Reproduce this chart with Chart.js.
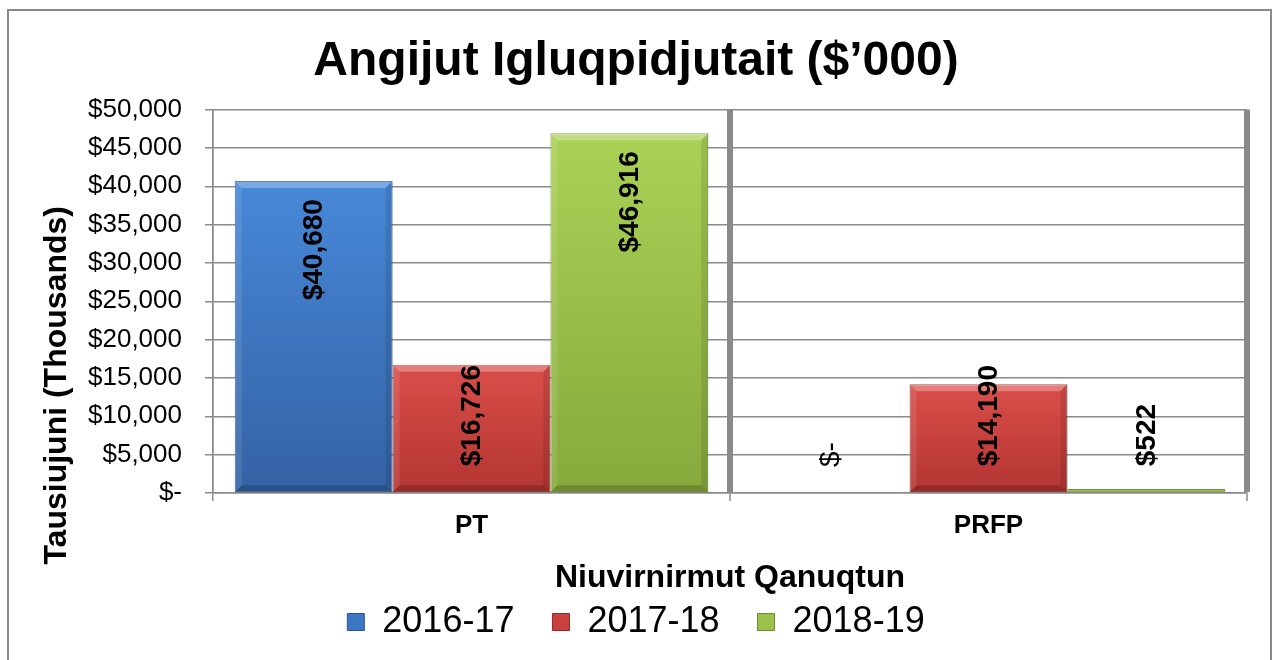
<!DOCTYPE html>
<html>
<head>
<meta charset="utf-8">
<script src="https://cdn.jsdelivr.net/npm/chart.js@4"></script>
<style>
  html, body { margin: 0; padding: 0; background: #ffffff; overflow: hidden; }
  #wrap { position: absolute; left: 0; top: 0; width: 1272px; height: 660px; }
  #frame { position: absolute; left: 7px; top: 9px; width: 1265px; height: 670px;
           border: 2px solid #8a8a8a; box-sizing: border-box; pointer-events: none; }
</style>
</head>
<body>
<div id="wrap">
  <canvas id="c" width="1272" height="660"></canvas>
  <div id="frame"></div>
</div>
<script>
// ---- data ----
const categories = ['PT', 'PRFP'];
const seriesNames = ['2016-17', '2017-18', '2018-19'];
const values2016 = [40680, 0];
const values2017 = [16726, 14190];
const values2018 = [46916, 522];
const yMin = 0;
const yMax = 50000;
const yStep = 5000;
const chartTitle = 'Angijut Igluqpidjutait ($\u2019000)';
const yAxisTitle = 'Tausiujuni (Thousands)';
const xAxisTitle = 'Niuvirnirmut Qanuqtun';

// ---- styles ----
const FONT = '"Liberation Sans", Arial, Helvetica, sans-serif';
const GRID = '#8a8a8a';
const palette = [
  { light: '#4788d8', dark: '#3462a4', solid: '#3d76c3', edge: '#2c5690' },
  { light: '#da4e4a', dark: '#b33532', solid: '#c8413e', edge: '#8e2a28' },
  { light: '#aad256', dark: '#86a93c', solid: '#9ac24a', edge: '#6f8c30' }
];

function money(v) {
  return v === 0 ? '$-' : '$' + Number(v).toLocaleString('en-US');
}

function barFill(p) {
  return (c) => {
    const chart = c.chart;
    const ys = chart.scales && chart.scales.y;
    if (!chart.chartArea || !ys || !c.parsed) return p.solid;
    const t = ys.getPixelForValue(c.parsed.y);
    const b = ys.getPixelForValue(0);
    if (b - t < 2) return p.light;
    const g = chart.ctx.createLinearGradient(0, t, 0, b);
    g.addColorStop(0, p.light);
    g.addColorStop(1, p.dark);
    return g;
  };
}

// bevel + data labels drawn from the bar elements the library laid out
const barDecor = {
  id: 'barDecor',
  afterDatasetsDraw(chart) {
    const ctx = chart.ctx;
    chart.data.datasets.forEach((ds, di) => {
      const meta = chart.getDatasetMeta(di);
      meta.data.forEach((el, i) => {
        const half = el.width / 2;
        const l = el.x - half, r = el.x + half, t = el.y, b = el.base;
        const bv = 7;
        if (b - t > 2 * bv + 2) {
          const poly = (pts, col) => {
            ctx.beginPath();
            ctx.moveTo(pts[0][0], pts[0][1]);
            for (let k = 1; k < pts.length; k++) ctx.lineTo(pts[k][0], pts[k][1]);
            ctx.closePath();
            ctx.fillStyle = col;
            ctx.fill();
          };
          ctx.save();
          poly([[l, t], [r, t], [r - bv, t + bv], [l + bv, t + bv]], 'rgba(255,255,255,0.28)');
          poly([[l, t], [l + bv, t + bv], [l + bv, b - bv], [l, b]], 'rgba(255,255,255,0.10)');
          poly([[r, t], [r, b], [r - bv, b - bv], [r - bv, t + bv]], 'rgba(0,0,0,0.10)');
          poly([[l, b], [l + bv, b - bv], [r - bv, b - bv], [r, b]], 'rgba(0,0,0,0.18)');
          ctx.restore();
        }
        // label
        const v = ds.data[i];
        const txt = money(v);
        ctx.save();
        ctx.font = (v === 0 ? '' : 'bold ') + '28px ' + FONT;
        const w = ctx.measureText(txt).width;
        const bottom = Math.min(t + 18 + w, b - 26);
        ctx.translate(el.x, bottom);
        ctx.rotate(-Math.PI / 2);
        ctx.textAlign = 'left';
        ctx.textBaseline = 'middle';
        ctx.fillStyle = '#000000';
        ctx.fillText(txt, 0, 1);
        ctx.restore();
      });
    });
  }
};

// y-axis title (placed lower than the axis centre, as in the original)
const yTitlePlugin = {
  id: 'yTitle',
  afterDraw(chart) {
    const a = chart.chartArea;
    const ctx = chart.ctx;
    ctx.save();
    ctx.font = 'bold 32px ' + FONT;
    ctx.fillStyle = '#000000';
    ctx.textAlign = 'center';
    ctx.textBaseline = 'middle';
    ctx.translate(57, (a.top + a.bottom) / 2 + 84);
    ctx.rotate(-Math.PI / 2);
    ctx.fillText(yAxisTitle, 0, 0);
    ctx.restore();
  }
};

const seriesValues = [values2016, values2017, values2018];
const datasets = seriesNames.map((name, k) => ({
  label: name,
  data: seriesValues[k],
  backgroundColor: barFill(palette[k]),
  borderColor: palette[k].edge,
  borderWidth: 1,
  borderSkipped: false,
  categoryPercentage: 0.916,
  barPercentage: 1.0
}));

new Chart(document.getElementById('c'), {
  type: 'bar',
  data: { labels: categories, datasets },
  plugins: [barDecor, yTitlePlugin],
  options: {
    responsive: false,
    devicePixelRatio: 1,
    animation: false,
    layout: { padding: { left: 8, right: 8, top: 10, bottom: 10 } },
    plugins: {
      tooltip: { enabled: false },
      title: {
        display: true,
        text: chartTitle,
        color: '#000000',
        font: { family: FONT, size: 48, weight: 'bold' },
        padding: { top: 23, bottom: 19 }
      },
      legend: {
        position: 'bottom',
        labels: {
          color: '#000000',
          font: { family: FONT, size: 36 },
          boxWidth: 17,
          boxHeight: 17,
          padding: 38,
          generateLabels(chart) {
            return chart.data.datasets.map((ds, k) => ({
              text: ds.label,
              fillStyle: palette[k].solid,
              strokeStyle: palette[k].edge,
              lineWidth: 1,
              hidden: false,
              datasetIndex: k,
              fontColor: '#000000'
            }));
          }
        }
      }
    },
    scales: {
      x: {
        offset: true,
        grid: {
          display: true,
          offset: true,
          color: GRID,
          lineWidth: (c) => (c.index === 0 ? 1.5 : 6),
          tickLength: 8,
          tickWidth: 1.5,
          tickColor: GRID
        },
        border: { display: true, color: GRID, width: 1.5 },
        ticks: {
          color: '#000000',
          font: { family: FONT, size: 26, weight: 'bold' },
          padding: 9
        },
        title: {
          display: true,
          text: xAxisTitle,
          color: '#000000',
          font: { family: FONT, size: 32, weight: 'bold' },
          padding: { top: 0, bottom: -31 }
        },
        afterFit(s) { s.height = 73; }
      },
      y: {
        min: yMin,
        max: yMax,
        grid: {
          color: GRID,
          lineWidth: 1.5,
          tickLength: 8,
          tickColor: GRID
        },
        border: { display: true, color: GRID, width: 1.5 },
        ticks: {
          stepSize: yStep,
          color: '#000000',
          font: { family: FONT, size: 26 },
          padding: 23,
          callback: (v) => money(v)
        },
        afterFit(s) { s.width = 205; }
      },
      yRight: {
        type: 'linear',
        position: 'right',
        display: true,
        grid: { display: false, drawOnChartArea: false, drawTicks: false },
        border: { display: false },
        ticks: { display: false },
        afterFit(s) { s.width = 17; }
      }
    }
  }
});
</script>
</body>
</html>
